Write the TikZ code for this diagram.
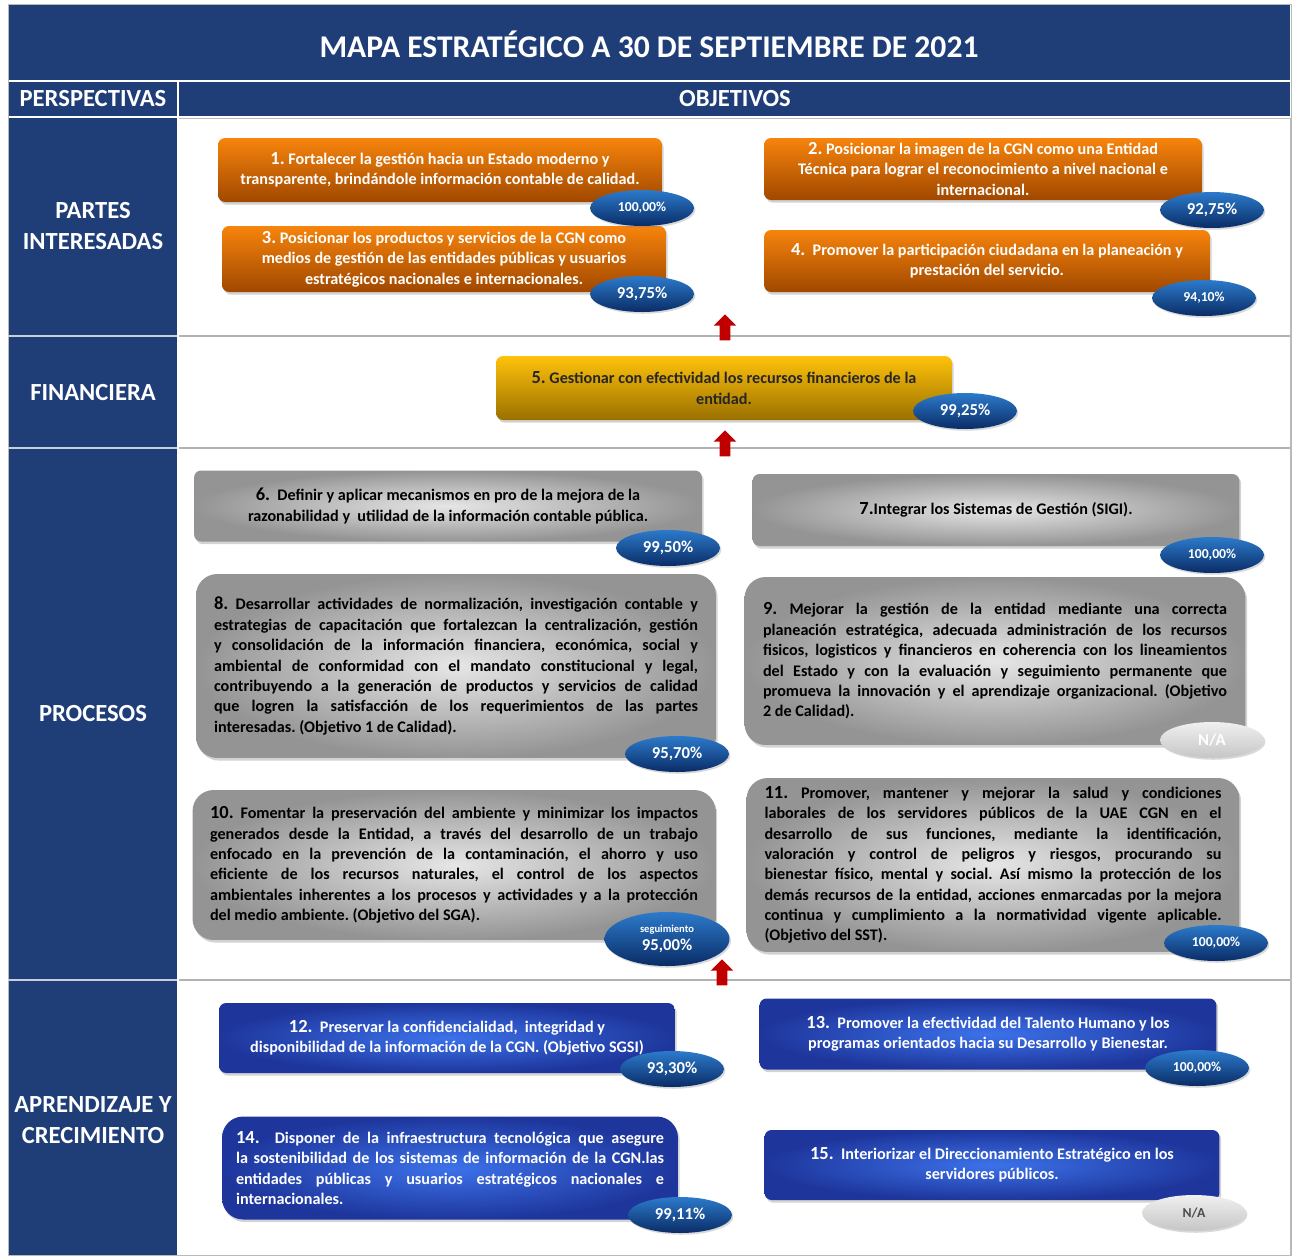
\documentclass[tikz,border=0pt]{standalone}
\usepackage{fontspec}
\setmainfont{Carlito}
\usetikzlibrary{shapes.geometric,shapes.arrows,shadows}
\frenchspacing
\tolerance=9999

\definecolor{azulcgn}{HTML}{1F3E78}
\definecolor{naranjaA}{HTML}{F7840C}
\definecolor{naranjaB}{HTML}{A04800}
\definecolor{amarilloA}{HTML}{FFC20A}
\definecolor{amarilloB}{HTML}{9A7000}
\definecolor{grisA}{HTML}{E6E6E6}
\definecolor{grisB}{HTML}{949494}
\definecolor{azulA}{HTML}{3C72EA}
\definecolor{azulB}{HTML}{1E369C}
\definecolor{elipseA}{HTML}{2C7ACB}
\definecolor{elipseB}{HTML}{0A2C66}
\definecolor{rojoflecha}{HTML}{C00000}

\newcommand{\nro}[1]{{\fontsize{10.5}{11.6}\selectfont #1}}

\begin{document}
\begin{tikzpicture}[x=0.02cm, y=-0.02cm]
\tikzstyle{objetivo}=[rectangle, rounded corners=4pt, inner sep=0pt, align=center,
  font=\bfseries\fontsize{9.2}{11.6}\selectfont,
  drop shadow={opacity=0.35, shadow xshift=1pt, shadow yshift=-1.5pt}]
\tikzstyle{naranja}=[objetivo, top color=naranjaA, bottom color=naranjaB, text=white]
\tikzstyle{amarillo}=[objetivo, top color=amarilloA, bottom color=amarilloB, text=black!85]
\tikzstyle{gris}=[objetivo, inner color=grisA, outer color=grisB, text=black]
\tikzstyle{azul}=[objetivo, inner color=azulA, outer color=azulB, text=white]
\tikzstyle{largo}=[rounded corners=12pt, align=justify]
\tikzstyle{avance}=[ellipse, minimum width=2.08cm, minimum height=0.72cm, inner sep=0pt,
  top color=elipseA, bottom color=elipseB, text=white,
  font=\bfseries\fontsize{9.5}{10}\selectfont,
  drop shadow={opacity=0.3, shadow xshift=0.8pt, shadow yshift=-1pt}]
\tikzstyle{avance chico}=[avance, font=\bfseries\fontsize{7.8}{9}\selectfont]
\tikzstyle{no aplica}=[avance, top color=gray!12, bottom color=gray!45]
\tikzstyle{perspectiva}=[text=white, align=center, font=\bfseries\fontsize{14}{17.6}\selectfont]
\tikzstyle{flecha}=[single arrow, shape border rotate=90, fill=rojoflecha, draw=none,
  minimum height=0.52cm, inner sep=0.1cm, single arrow head extend=0.12cm]

\useasboundingbox (0,0) rectangle (1292,1255);

% Table frame and headers
\fill[azulcgn] (8,5) rectangle (1290,80);
\node[perspectiva, font=\bfseries\fontsize{18}{20}\selectfont] (titulo) at (649,44)
  {MAPA ESTRATÉGICO A 30 DE SEPTIEMBRE DE 2021};
\fill[azulcgn] (8,82) rectangle (177,116);
\fill[azulcgn] (179,82) rectangle (1290,116);
\node[perspectiva] (persp) at (93,99) {PERSPECTIVAS};
\node[perspectiva] (objs) at (735,99) {OBJETIVOS};
\fill[azulcgn] (8,118) rectangle (177,1255);
\draw[gray!55] (179,118) -- (1290,118) -- (1290,1255);
\draw[gray!55] (8,4) rectangle (1291,1255);

% Section separators
\foreach \y in {336,448,980} {
  \draw[gray!60, line width=0.8pt] (179,\y) -- (1290,\y);
  \draw[white!75!azulcgn, line width=1pt] (8,\y) -- (177,\y);
}

% Perspectives
\node[perspectiva] (P-1) at (93,226) {PARTES\\INTERESADAS};
\node[perspectiva] (P-2) at (93,393) {FINANCIERA};
\node[perspectiva] (P-3) at (93,714) {PROCESOS};
\node[perspectiva] (P-4) at (93,1120) {APRENDIZAJE Y\\CRECIMIENTO};

% Red arrows between perspectives
\node[flecha] (F-1) at (725,330) {};
\node[flecha] (F-2) at (725,446) {};
\node[flecha] (F-3) at (722,975) {};

% Partes interesadas
\node[naranja, minimum width=8.88cm, minimum height=1.28cm] (O-1) at (440,170)
  {\nro{1.} Fortalecer la gestión hacia un Estado moderno y\\
   transparente, brindándole información contable de calidad.};
\node[naranja, minimum width=8.76cm, minimum height=1.24cm] (O-2) at (983,169)
  {\nro{2.} Posicionar la imagen de la CGN  como una Entidad\\
   Técnica para lograr el reconocimiento a nivel nacional e\\
   internacional.};
\node[naranja, minimum width=8.88cm, minimum height=1.32cm] (O-3) at (444,259)
  {\nro{3.} Posicionar los productos y servicios de la CGN como\\
   medios de gestión de las entidades públicas y usuarios\\
   estratégicos nacionales e internacionales.};
\node[naranja, minimum width=8.92cm, minimum height=1.24cm] (O-4) at (987,261)
  {\nro{4.}\ \ Promover la participación ciudadana en la planeación y\\
   prestación del servicio.};

% Financiera
\node[amarillo, minimum width=9.12cm, minimum height=1.28cm] (O-5) at (724,388)
  {\nro{5.} Gestionar con efectividad los recursos financieros de la\\ entidad.};

% Procesos
\node[gris, minimum width=10.16cm, minimum height=1.42cm] (O-6) at (448,506)
  {\nro{6.}\ \ Definir y aplicar mecanismos en pro de la mejora de la\\
   razonabilidad y\ \ utilidad de la información contable pública.};
\node[gris, minimum width=9.74cm, minimum height=1.44cm] (O-7) at (996,510)
  {\nro{7.}Integrar los Sistemas de Gestión (SIGI).};
\node[gris, largo, minimum width=10.4cm, minimum height=3.68cm, text width=9.68cm] (O-8) at (456,666)
  {\nro{8.} Desarrollar actividades de normalización, investigación contable y\linebreak
   estrategias de capacitación que fortalezcan la centralización, gestión\linebreak
   y consolidación de la información financiera, económica, social y\linebreak
   ambiental de conformidad con el mandato constitucional y legal,\linebreak
   contribuyendo a la generación de productos y servicios de calidad\linebreak
   que logren la satisfacción de los requerimientos de las partes\linebreak
   interesadas. (Objetivo 1 de Calidad).};
\node[gris, largo, minimum width=10.02cm, minimum height=3.36cm, text width=9.28cm] (O-9) at (995,661)
  {\nro{9.} Mejorar la gestión de la entidad mediante una correcta\linebreak
   planeación estratégica, adecuada administración de los recursos\linebreak
   fisicos, logisticos y financieros en coherencia con los lineamientos\linebreak
   del Estado y con la evaluación y seguimiento permanente que\linebreak
   promueva la innovación y el aprendizaje organizacional. (Objetivo\linebreak
   2 de Calidad).};
\node[gris, largo, minimum width=10.46cm, minimum height=3.0cm, text width=9.76cm] (O-10) at (454,865)
  {\nro{10.} Fomentar la preservación del ambiente y minimizar los impactos\linebreak
   generados desde la Entidad, a través del desarrollo de un trabajo\linebreak
   enfocado en la prevención de la contaminación, el ahorro y uso\linebreak
   eficiente de los recursos naturales, el control de los aspectos\linebreak
   ambientales inherentes a los procesos y actividades y a la protección\linebreak
   del medio ambiente. (Objetivo del SGA).};
\node[gris, largo, minimum width=9.86cm, minimum height=3.48cm, text width=9.14cm] (O-11) at (993,865)
  {\nro{11.} Promover, mantener y mejorar la salud y condiciones\linebreak
   laborales de los servidores públicos de la UAE CGN en el\linebreak
   desarrollo de sus funciones, mediante la identificación,\linebreak
   valoración y control de peligros y riesgos, procurando su\linebreak
   bienestar físico, mental y social. Así mismo la protección de los\linebreak
   demás recursos de la entidad, acciones enmarcadas por la mejora\linebreak
   continua y cumplimiento a la normatividad vigente aplicable.\linebreak
   (Objetivo del SST).};

% Aprendizaje y crecimiento
\node[azul, minimum width=9.12cm, minimum height=1.4cm] (O-12) at (447,1038)
  {\nro{12.}\ \ Preservar la confidencialidad,\ \ integridad y\\
   disponibilidad de la información de la CGN. (Objetivo SGSI)};
\node[azul, minimum width=9.14cm, minimum height=1.42cm] (O-13) at (988,1034)
  {\nro{13.}\ \ Promover la efectividad del Talento Humano y los\\
   programas orientados hacia su Desarrollo y Bienestar.};
\node[azul, largo, minimum width=9.12cm, minimum height=2.06cm, text width=8.56cm] (O-14) at (450,1168)
  {\nro{14.}\ \ Disponer de la infraestructura tecnológica que asegure\linebreak
   la sostenibilidad de los sistemas de información de la CGN.las\linebreak
   entidades públicas y usuarios estratégicos nacionales e\linebreak
   internacionales.};
\node[azul, minimum width=9.1cm, minimum height=1.4cm] (O-15) at (992,1165)
  {\nro{15.}\ \ Interiorizar el Direccionamiento Estratégico en los\\
   servidores públicos.};

% Progress values
\node[avance chico] (A-1) at (642,208) {100,00\%};
\node[avance] (A-2) at (1212,210) {92,75\%};
\node[avance] (A-3) at (642,294) {93,75\%};
\node[avance chico] (A-4) at (1204,298) {94,10\%};
\node[avance] (A-5) at (965,411) {99,25\%};
\node[avance] (A-6) at (668,548) {99,50\%};
\node[avance chico] (A-7) at (1212,555) {100,00\%};
\node[avance] (A-8) at (677,754) {95,70\%};
\node[no aplica] (A-9) at (1212,740) {N/A};
\node[avance, minimum width=2.5cm, minimum height=1.08cm, align=center] (A-10) at (667,939)
  {{\fontsize{6}{7}\selectfont seguimiento}\\95,00\%};
\node[avance chico] (A-11) at (1216,943) {100,00\%};
\node[avance] (A-12) at (672,1069) {93,30\%};
\node[avance chico] (A-13) at (1197,1068) {100,00\%};
\node[avance] (A-14) at (680,1215) {99,11\%};
\node[no aplica, text=gray!60!black, font=\bfseries\fontsize{7.8}{9}\selectfont] (A-15) at (1194,1213) {N/A};

\end{tikzpicture}
\end{document}
